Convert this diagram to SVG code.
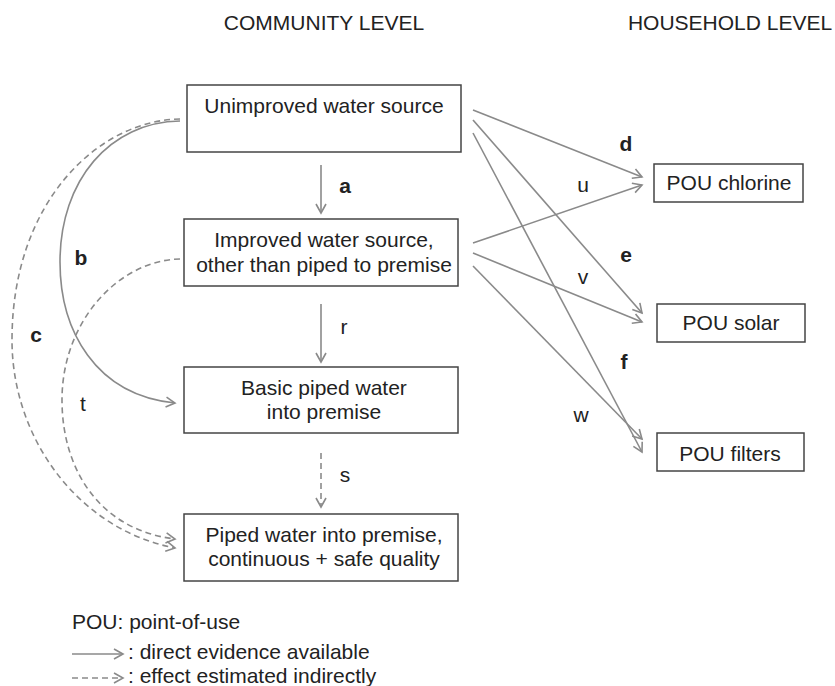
<svg xmlns="http://www.w3.org/2000/svg" width="835" height="686" viewBox="0 0 835 686">
<style>
text{font-family:"Liberation Sans",Arial,sans-serif;font-size:21px;fill:#222}
.c{text-anchor:middle}
.b{font-weight:bold}
.box{fill:#fff;stroke:#444;stroke-width:1.5}
.ln{fill:none;stroke:#8a8a8a;stroke-width:1.6;marker-end:url(#ah)}
.ds{stroke-dasharray:6 4}
</style>
<defs>
<marker id="ah" markerUnits="userSpaceOnUse" markerWidth="20" markerHeight="20" viewBox="-10 -10 20 20" refX="0" refY="0" orient="auto">
<path d="M-9,-5 L0,0 L-9,5" fill="none" stroke="#8a8a8a" stroke-width="1.6"/>
</marker>
</defs>
<text x="324" y="30" class="c">COMMUNITY LEVEL</text>
<text x="730" y="30" class="c">HOUSEHOLD LEVEL</text>
<g id="connectors">
<line class="ln" x1="321" y1="165" x2="321" y2="213"/>
<line class="ln" x1="321" y1="304" x2="321" y2="362"/>
<line class="ln ds" x1="321" y1="453" x2="321" y2="507"/>
<path class="ln" d="M180,121 C110,122 60,180 60,262 C60,330 95,395 175,403"/>
<path class="ln ds" d="M180,119 C100,120 12,200 12,340 C12,440 80,530 175,548"/>
<path class="ln ds" d="M180,259 C120,260 62,320 62,400 C62,470 100,530 175,539"/>
<line class="ln" x1="473" y1="110" x2="642" y2="177"/>
<line class="ln" x1="473" y1="120" x2="642" y2="313"/>
<line class="ln" x1="473" y1="133" x2="642" y2="452"/>
<line class="ln" x1="473" y1="243" x2="642" y2="185"/>
<line class="ln" x1="473" y1="253" x2="642" y2="322"/>
<line class="ln" x1="473" y1="266" x2="642" y2="439"/>
</g>
<g id="labels">
<text x="345" y="193" class="c b">a</text>
<text x="344" y="334" class="c">r</text>
<text x="345" y="482" class="c">s</text>
<text x="81" y="265" class="c b">b</text>
<text x="36" y="342" class="c b">c</text>
<text x="83" y="411" class="c">t</text>
<text x="626" y="151" class="c b">d</text>
<text x="583" y="192" class="c">u</text>
<text x="626" y="262" class="c b">e</text>
<text x="583" y="284" class="c">v</text>
<text x="624" y="369" class="c b">f</text>
<text x="581" y="422" class="c">w</text>
</g>
<g id="n1">
<rect class="box" x="187" y="85" width="274" height="67"/>
<text x="324" y="113" class="c">Unimproved water source</text>
</g>
<g id="n2">
<rect class="box" x="184" y="219" width="274" height="67"/>
<text x="324" y="247" class="c">Improved water source,</text>
<text x="324" y="272" class="c">other than piped to premise</text>
</g>
<g id="n3">
<rect class="box" x="184" y="367" width="274" height="66"/>
<text x="324" y="395" class="c">Basic piped water</text>
<text x="324" y="419" class="c">into premise</text>
</g>
<g id="n4">
<rect class="box" x="184" y="514" width="274" height="67"/>
<text x="324" y="542" class="c">Piped water into premise,</text>
<text x="324" y="566" class="c">continuous + safe quality</text>
</g>
<g id="n5">
<rect class="box" x="654" y="164" width="149" height="38"/>
<text x="729" y="190" class="c">POU chlorine</text>
</g>
<g id="n6">
<rect class="box" x="657" y="304" width="148" height="38"/>
<text x="731" y="330" class="c">POU solar</text>
</g>
<g id="n7">
<rect class="box" x="657" y="433" width="147" height="38"/>
<text x="730" y="461" class="c">POU filters</text>
</g>
<g id="legend">
<text x="72" y="629">POU: point-of-use</text>
<line class="ln" x1="72" y1="654" x2="123" y2="654"/>
<text x="128" y="659">: direct evidence available</text>
<line class="ln ds" x1="72" y1="678" x2="123" y2="678"/>
<text x="128" y="683">: effect estimated indirectly</text>
</g>
</svg>
